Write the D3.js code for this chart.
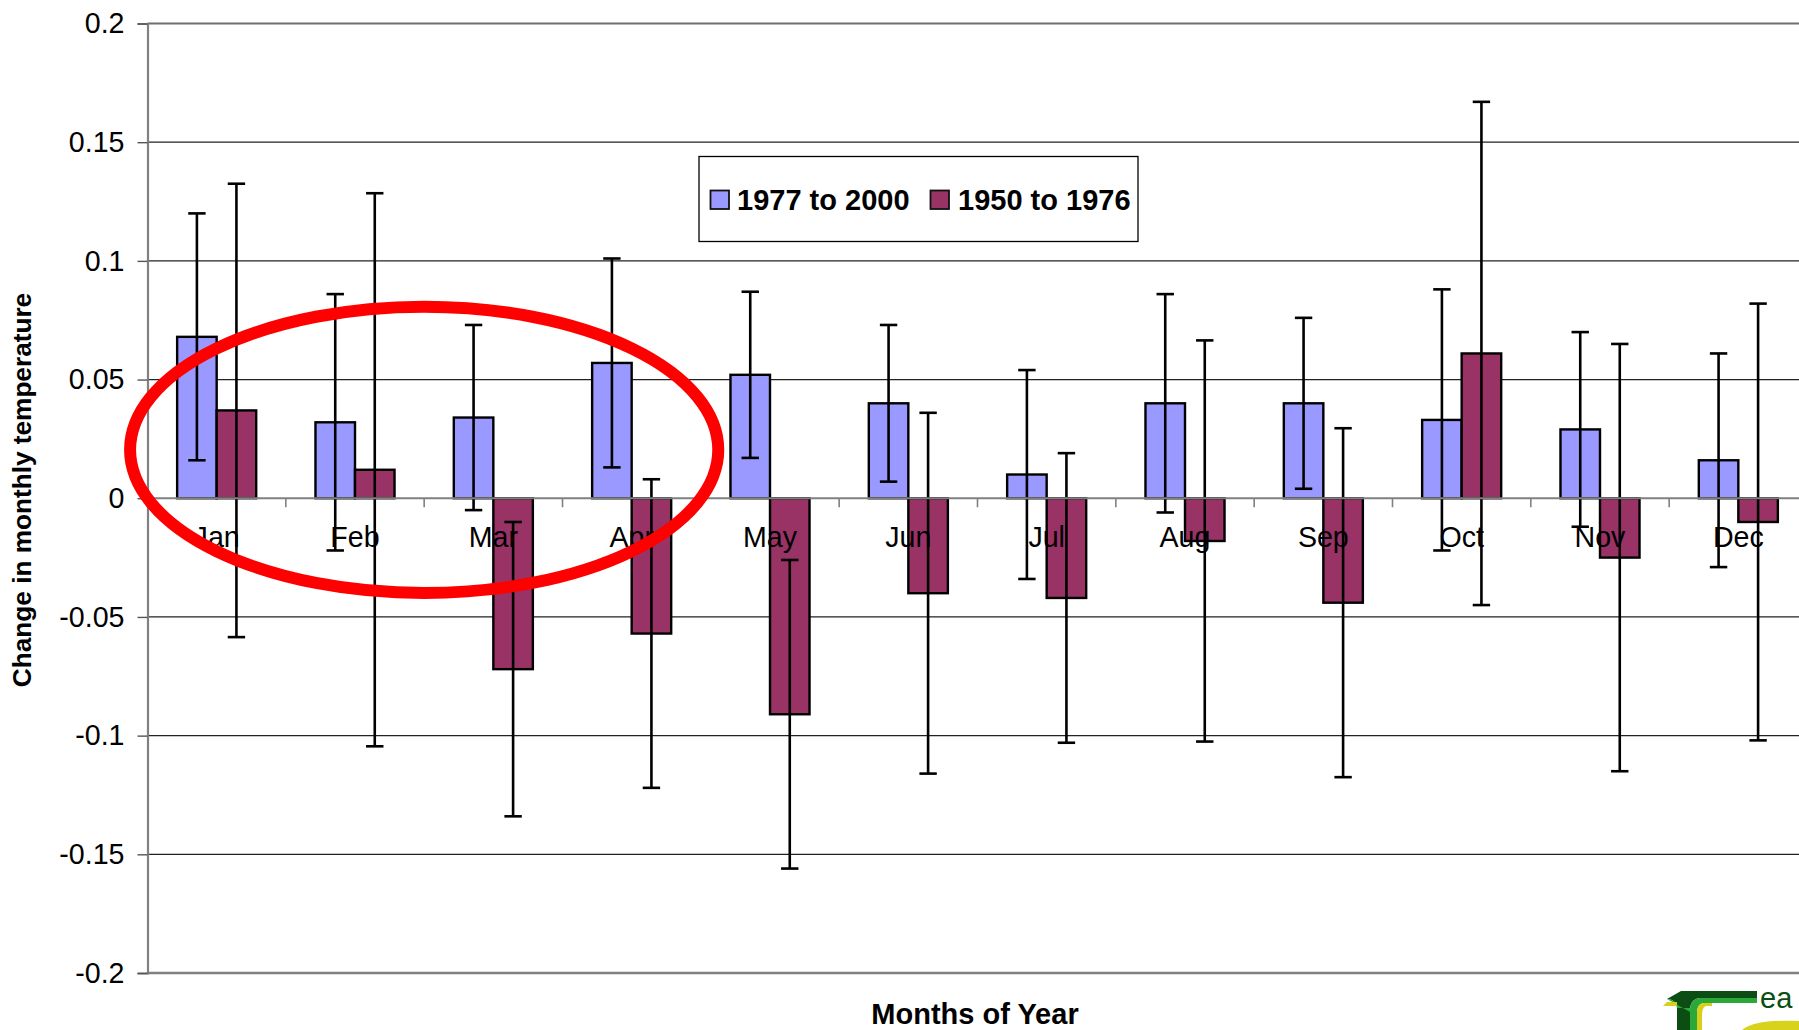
<!DOCTYPE html>
<html>
<head>
<meta charset="utf-8">
<title>Change in monthly temperature</title>
<script src="https://cdn.jsdelivr.net/npm/d3@7/dist/d3.min.js"></script>
<style>
  html, body { margin: 0; padding: 0; background: #ffffff; }
  svg { display: block; }
  text { font-family: "Liberation Sans", Arial, Helvetica, sans-serif; fill: #000; }
</style>
</head>
<body>
<svg id="chart" width="1799" height="1030"></svg>
<script>
// Monthly change in temperature, two periods, with error bars
const months = ["Jan", "Feb", "Mar", "Apr", "May", "Jun", "Jul", "Aug", "Sep", "Oct", "Nov", "Dec"];
const seriesNames = ["1977 to 2000", "1950 to 1976"];
const recent = [0.068, 0.032, 0.034, 0.057, 0.052, 0.040, 0.010, 0.040, 0.040, 0.033, 0.029, 0.016];
const recentErr = [0.052, 0.054, 0.039, 0.044, 0.035, 0.033, 0.044, 0.046, 0.036, 0.055, 0.041, 0.045];
const earlier = [0.037, 0.012, -0.072, -0.057, -0.091, -0.040, -0.042, -0.018, -0.044, 0.061, -0.025, -0.010];
const earlierErr = [0.0955, 0.1165, 0.062, 0.065, 0.065, 0.076, 0.061, 0.0845, 0.0735, 0.106, 0.090, 0.092];
const yTicks = [0.2, 0.15, 0.1, 0.05, 0, -0.05, -0.1, -0.15, -0.2];
const yTickLabels = ["0.2", "0.15", "0.1", "0.05", "0", "-0.05", "-0.1", "-0.15", "-0.2"];
const colors = ["#9999FF", "#993366"];

// highlighted region: centred on the Feb/Mar boundary, radii in bands and in value units
const highlight = { boundary: 2, value: 0.0204, rxBands: 2.126, ryValue: 0.0603 };

const svg = d3.select("#chart");
const W = 1799, H = 1030;
const plot = { left: 147.5, right: 1807.5, top: 23.5, bottom: 973 };

const x = d3.scaleBand().domain(months).range([plot.left, plot.right]).paddingInner(0).paddingOuter(0);
const inner = d3.scaleBand().domain(seriesNames).range([0, x.bandwidth()]).paddingInner(0).paddingOuter(0.75);
const y = d3.scaleLinear().domain([-0.2, 0.2]).range([plot.bottom, plot.top]);

svg.append("rect").attr("width", W).attr("height", H).attr("fill", "#fff");

// horizontal gridlines
const grid = svg.append("g");
grid.selectAll("line")
  .data(yTicks.filter(t => t !== 0 && t !== 0.2 && t !== -0.2))
  .join("line")
  .attr("x1", plot.left).attr("x2", W)
  .attr("y1", d => y(d)).attr("y2", d => y(d))
  .attr("stroke", "#222").attr("stroke-width", 1.2);

// plot frame: top and bottom edges
svg.append("line").attr("x1", plot.left).attr("x2", W)
  .attr("y1", y(0.2)).attr("y2", y(0.2)).attr("stroke", "#6e6e6e").attr("stroke-width", 1.8);
svg.append("line").attr("x1", plot.left).attr("x2", W)
  .attr("y1", y(-0.2)).attr("y2", y(-0.2)).attr("stroke", "#808080").attr("stroke-width", 2.5);

// bars
const rows = months.map((m, i) => ({
  month: m,
  vals: [
    { name: seriesNames[0], v: recent[i], e: recentErr[i], c: colors[0] },
    { name: seriesNames[1], v: earlier[i], e: earlierErr[i], c: colors[1] }
  ]
}));

const groups = svg.append("g").selectAll("g")
  .data(rows).join("g")
  .attr("transform", d => `translate(${x(d.month)},0)`);

groups.selectAll("rect")
  .data(d => d.vals).join("rect")
  .attr("x", d => inner(d.name))
  .attr("width", inner.bandwidth())
  .attr("y", d => y(Math.max(0, d.v)))
  .attr("height", d => Math.abs(y(d.v) - y(0)))
  .attr("fill", d => d.c)
  .attr("stroke", "#000").attr("stroke-width", 2.4);

// category axis along zero
svg.append("line").attr("x1", plot.left).attr("x2", W)
  .attr("y1", y(0)).attr("y2", y(0)).attr("stroke", "#808080").attr("stroke-width", 2);
svg.append("g").selectAll("line")
  .data(months).join("line")
  .attr("x1", d => x(d)).attr("x2", d => x(d))
  .attr("y1", y(0)).attr("y2", y(0) + 9)
  .attr("stroke", "#808080").attr("stroke-width", 1.6);

// month labels
svg.append("g").selectAll("text")
  .data(months).join("text")
  .attr("x", d => x(d) + x.bandwidth() / 2)
  .attr("y", y(0) + 49)
  .attr("text-anchor", "middle")
  .attr("font-size", 28.6)
  .text(d => d);

// error bars
const capHalf = 8.7;
const eb = groups.selectAll("g.err")
  .data(d => d.vals).join("g").attr("class", "err")
  .attr("stroke", "#000").attr("stroke-width", 2.6);
eb.append("line")
  .attr("x1", d => inner(d.name) + inner.bandwidth() / 2)
  .attr("x2", d => inner(d.name) + inner.bandwidth() / 2)
  .attr("y1", d => y(d.v + d.e)).attr("y2", d => y(d.v - d.e));
eb.append("line")
  .attr("x1", d => inner(d.name) + inner.bandwidth() / 2 - capHalf)
  .attr("x2", d => inner(d.name) + inner.bandwidth() / 2 + capHalf)
  .attr("y1", d => y(d.v + d.e)).attr("y2", d => y(d.v + d.e));
eb.append("line")
  .attr("x1", d => inner(d.name) + inner.bandwidth() / 2 - capHalf)
  .attr("x2", d => inner(d.name) + inner.bandwidth() / 2 + capHalf)
  .attr("y1", d => y(d.v - d.e)).attr("y2", d => y(d.v - d.e));

// value axis
const yAxis = d3.axisLeft(y)
  .tickValues(yTicks)
  .tickFormat((d, i) => yTickLabels[i])
  .tickSize(10)
  .tickPadding(13);
const ya = svg.append("g").attr("transform", `translate(${plot.left},0)`).call(yAxis);
ya.select(".domain").attr("stroke", "#808080").attr("stroke-width", 2.2);
ya.selectAll(".tick line").attr("stroke", "#555").attr("stroke-width", 1.4);
ya.selectAll(".tick text")
  .attr("font-size", 28.6)
  .attr("font-family", "'Liberation Sans', Arial, sans-serif")
  .attr("fill", "#000");

// axis titles
svg.append("text")
  .attr("transform", `translate(31,490) rotate(-90)`)
  .attr("text-anchor", "middle")
  .attr("font-size", 26.2)
  .attr("font-weight", "bold")
  .text("Change in monthly temperature");
svg.append("text")
  .attr("x", 975).attr("y", 1024)
  .attr("text-anchor", "middle")
  .attr("font-size", 29)
  .attr("font-weight", "bold")
  .text("Months of Year");

// legend
const lg = svg.append("g");
lg.append("rect").attr("x", 699).attr("y", 156.5).attr("width", 439).attr("height", 85)
  .attr("fill", "#fff").attr("stroke", "#000").attr("stroke-width", 1.3);
const legendItems = [
  { name: seriesNames[0], c: colors[0], sx: 710.5, tx: 737 },
  { name: seriesNames[1], c: colors[1], sx: 930.5, tx: 958 }
];
legendItems.forEach(it => {
  lg.append("rect").attr("x", it.sx).attr("y", 190.5).attr("width", 18.5).attr("height", 18.5)
    .attr("fill", it.c).attr("stroke", "#111").attr("stroke-width", 1.8);
  lg.append("text").attr("x", it.tx).attr("y", 210)
    .attr("font-size", 29).attr("font-weight", "bold").text(it.name);
});

// red highlight ellipse
const cx = x(months[highlight.boundary]);
svg.append("ellipse")
  .attr("cx", cx)
  .attr("cy", y(highlight.value))
  .attr("rx", highlight.rxBands * x.bandwidth())
  .attr("ry", y(0) - y(highlight.ryValue))
  .attr("fill", "none")
  .attr("stroke", "#FF0000")
  .attr("stroke-width", 12);

// corner logo
const logo = svg.append("g");
logo.append("path")
  .attr("d", "M1681,991 L1757,991 L1757,998 L1700,998 C1692,999 1690,1004 1690,1012 L1690,1030 L1677,1030 L1677,1008 C1677,1003 1673,999 1667,999 Z")
  .attr("fill", "#0b4d12");
logo.append("path")
  .attr("d", "M1667,999 C1673,999 1677,1003 1677,1008 L1690,1008 L1690,1012 C1690,1004 1692,999 1700,998 L1757,998 L1757,1003 L1704,1003 C1698,1004 1697,1008 1697,1014 L1697,1030 L1690,1030 L1690,1012 Z")
  .attr("fill", "#2aa838");
logo.append("path")
  .attr("d", "M1663,1006 L1667,1002 L1677,1002 L1677,1006 Z")
  .attr("fill", "#d9cf1a");
logo.append("path")
  .attr("d", "M1704,1003 L1712,1003 L1712,1006 L1706,1006 C1703,1007 1702,1011 1702,1016 L1702,1030 L1697,1030 L1697,1014 C1697,1008 1698,1004 1704,1003 Z")
  .attr("fill", "#d9cf1a");
logo.append("path")
  .attr("d", "M1742,1030 C1752,1022 1772,1020 1799,1021 L1799,1030 Z")
  .attr("fill", "#d9d21c");
logo.append("text")
  .attr("x", 1760).attr("y", 1008)
  .attr("font-size", 29)
  .attr("font-family", "'Liberation Serif', 'DejaVu Serif', serif")
  .style("fill", "#0b4d12")
  .text("ea");
</script>
</body>
</html>
